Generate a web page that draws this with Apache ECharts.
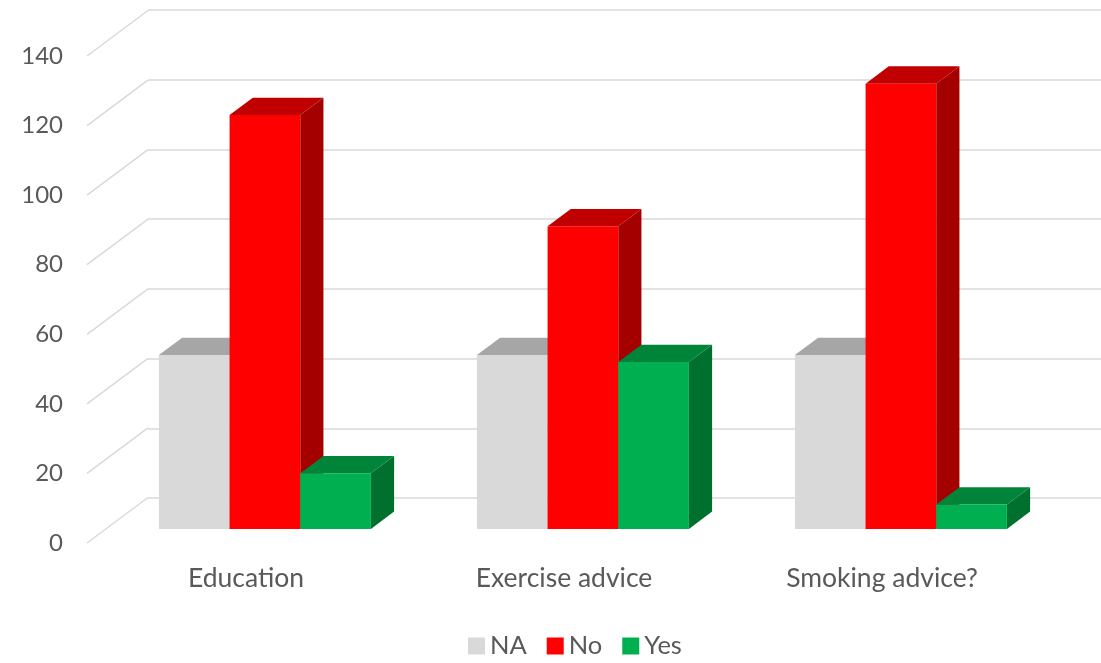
<!DOCTYPE html>
<html>
<head>
<meta charset="utf-8">
<script src="https://cdn.jsdelivr.net/npm/echarts@6/dist/echarts.min.js"></script>
<style>
  html, body { margin: 0; padding: 0; background: #fff; }
  #main { width: 1101px; height: 663px; }
</style>
</head>
<body>
<div id="main"></div>
<script>
var categories = ['Education', 'Exercise advice', 'Smoking advice?'];
var naValues = [50, 50, 50];
var noValues = [119, 87, 128];
var yesValues = [16, 48, 7];
var yTicks = [0, 20, 40, 60, 80, 100, 120, 140];

var chartDom = document.getElementById('main');
var myChart = echarts.init(chartDom);

// oblique projection: front plane -> back wall
var depth = [61, -45.5];
var barPlane = 0.31;   // bars stand this far into the floor
var barDepth = 0.38;   // and are this deep
var font = 'Lato, "Open Sans", sans-serif';

function toData(values) {
    return values.map(function (v, i) { return [i, v]; });
}

function barRenderer(index, faces) {
    return function (params, api) {
        var cat = api.value(0);
        var val = api.value(1);
        var band = api.size([1, 0])[0];
        var top = api.coord([cat, val]);
        var base = api.coord([cat, 0]);
        var w = band * 0.6667 / 3;
        var ox = depth[0] * barPlane, oy = depth[1] * barPlane;
        var dx = depth[0] * barDepth, dy = depth[1] * barDepth;
        var x0 = top[0] - band / 3 + index * w + ox;
        var x1 = x0 + w;
        var yt = top[1] + oy;
        var yb = base[1] + oy;
        return {
            type: 'group',
            children: [
                { type: 'polygon', shape: { points: [[x1, yt], [x1 + dx, yt + dy], [x1 + dx, yb + dy], [x1, yb]] }, style: { fill: faces.side } },
                { type: 'polygon', shape: { points: [[x0, yt], [x1, yt], [x1 + dx, yt + dy], [x0 + dx, yt + dy]] }, style: { fill: faces.top } },
                { type: 'rect', shape: { x: x0, y: yt, width: w, height: yb - yt }, style: { fill: faces.front } }
            ]
        };
    };
}

var option = {
    animation: false,
    textStyle: { fontFamily: font },
    grid: [
        { left: 87, width: 954, top: 56, bottom: 120 },   // front plane
        { left: 148, width: 954, top: 10, bottom: 165 }   // back wall
    ],
    legend: {
        data: ['NA', 'No', 'Yes'],
        left: 463,
        top: 628,
        icon: 'rect',
        itemWidth: 17,
        itemHeight: 17,
        itemGap: 20,
        textStyle: { fontSize: 25.5, color: '#595959', fontFamily: font }
    },
    xAxis: [
        {
            type: 'category',
            gridIndex: 0,
            data: categories,
            axisLine: { show: false },
            axisTick: { show: false },
            axisLabel: { fontSize: 26.5, color: '#595959', margin: 22, fontFamily: font }
        },
        {
            type: 'category',
            gridIndex: 1,
            data: categories,
            show: false
        }
    ],
    yAxis: [
        {
            type: 'value',
            gridIndex: 0,
            min: 0,
            max: 140,
            interval: 20,
            splitLine: { show: false },
            axisLine: { show: false },
            axisTick: { show: false },
            axisLabel: { fontSize: 24, color: '#595959', margin: 24, fontFamily: font }
        },
        {
            type: 'value',
            gridIndex: 1,
            min: 0,
            max: 140,
            interval: 20,
            axisLine: { show: false },
            axisTick: { show: false },
            axisLabel: { show: false },
            splitLine: { lineStyle: { color: '#d9d9d9', width: 1.5 } }
        }
    ],
    series: [
        {
            // side wall gridlines
            type: 'custom',
            xAxisIndex: 0,
            yAxisIndex: 0,
            silent: true,
            clip: false,
            z: 1,
            data: yTicks.map(function (v) { return [0, v]; }),
            renderItem: function (params, api) {
                var p = api.coord([0, api.value(1)]);
                var band = api.size([1, 0])[0];
                var x = p[0] - band / 2;
                return {
                    type: 'line',
                    shape: { x1: x, y1: p[1], x2: x + depth[0], y2: p[1] + depth[1] },
                    style: { stroke: '#d9d9d9', lineWidth: 1.5 }
                };
            }
        },
        {
            name: 'NA',
            type: 'custom',
            clip: false,
            z: 3,
            itemStyle: { color: '#d9d9d9' },
            data: toData(naValues),
            renderItem: barRenderer(0, { front: '#d9d9d9', top: '#a6a6a6', side: '#8f8f8f' })
        },
        {
            name: 'No',
            type: 'custom',
            clip: false,
            z: 3,
            itemStyle: { color: '#ff0000' },
            data: toData(noValues),
            renderItem: barRenderer(1, { front: '#ff0000', top: '#c00000', side: '#a50000' })
        },
        {
            name: 'Yes',
            type: 'custom',
            clip: false,
            z: 3,
            itemStyle: { color: '#00b050' },
            data: toData(yesValues),
            renderItem: barRenderer(2, { front: '#00b050', top: '#00843a', side: '#00702e' })
        }
    ]
};

option && myChart.setOption(option);
</script>
</body>
</html>
